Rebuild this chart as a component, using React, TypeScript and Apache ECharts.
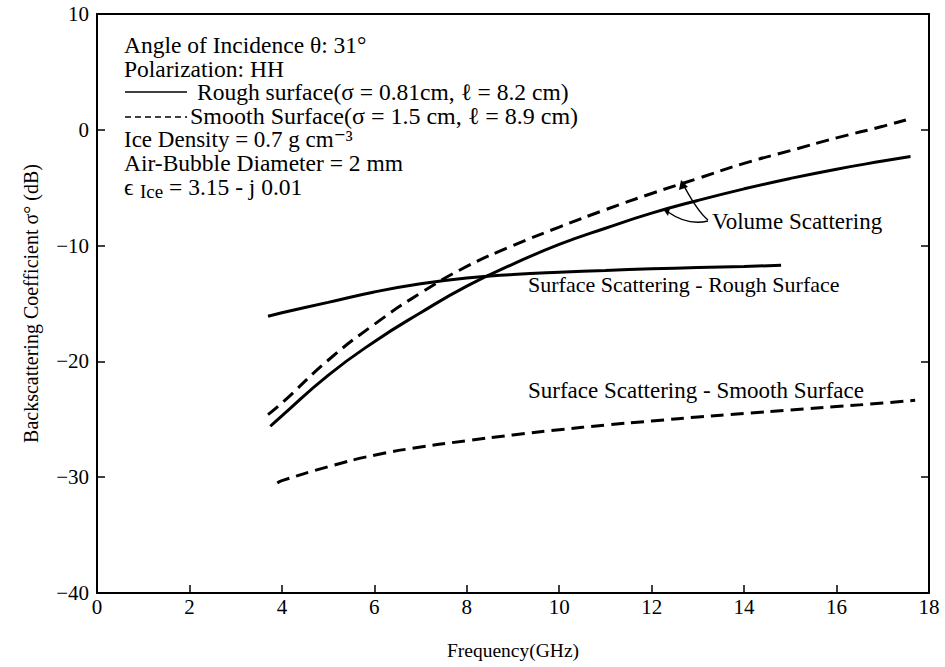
import React, { useEffect, useRef } from "react";
import * as echarts from "echarts";

const xTicks = [0, 2, 4, 6, 8, 10, 12, 14, 16, 18];
const yTicks = [10, 0, -10, -20, -30, -40];

const roughVolFreq = [3.75, 4, 5, 6, 7, 8, 9, 10, 11, 12, 13, 14, 15, 16, 17, 17.6];
const roughVol = [-25.6, -24.7, -21.2, -18.3, -15.8, -13.5, -11.6, -9.9, -8.5, -7.2, -6.1, -5.1, -4.2, -3.4, -2.7, -2.3];

const smoothVolFreq = [3.7, 4, 5, 6, 7, 8, 9, 10, 11, 12, 13, 14, 15, 16, 17, 17.5];
const smoothVol = [-24.6, -23.6, -19.9, -16.8, -14.1, -11.8, -10.0, -8.4, -6.9, -5.5, -4.2, -2.9, -1.8, -0.7, 0.3, 0.85];

const roughSurfFreq = [3.7, 4, 5, 6, 7, 8, 9, 10, 11, 12, 13, 14, 14.8];
const roughSurf = [-16.1, -15.8, -14.9, -14.0, -13.3, -12.8, -12.5, -12.3, -12.15, -12.0, -11.9, -11.8, -11.7];

const smoothSurfFreq = [3.9, 4, 5, 6, 7, 8, 9, 10, 11, 12, 13, 14, 15, 16, 17, 17.7];
const smoothSurf = [-30.5, -30.3, -29.1, -28.1, -27.4, -26.85, -26.35, -25.9, -25.5, -25.15, -24.8, -24.5, -24.2, -23.9, -23.6, -23.35];

const infoLines = [
  "Angle of Incidence \u03b8: 31\u00b0",
  "Polarization: HH",
  "Rough surface(\u03c3 = 0.81cm, \u2113 = 8.2 cm)",
  "Smooth Surface(\u03c3 = 1.5 cm, \u2113 = 8.9 cm)",
  "Ice Density = 0.7 g cm\u207b\u00b3",
  "Air-Bubble Diameter = 2 mm",
];

const FONT = "'Liberation Serif', 'DejaVu Serif', serif";

const zip = (xs: number[], ys: number[]) => xs.map((x, i) => [x, ys[i]]);

export default function App() {
  const ref = useRef<HTMLDivElement>(null);
  useEffect(() => {
    document.body.style.margin = "0";
    const chart = echarts.init(ref.current!, null, { renderer: "svg" });
    const lineStyleSolid = { color: "#000", width: 3, type: "solid" as const };
    const lineStyleDash = { color: "#000", width: 3, type: [13, 7] as any };
    const txt = (x: number, y: number, text: string, size = 22.5) => ({
      type: "text",
      x,
      y,
      style: { text, font: `${size}px ${FONT}`, lineHeight: Math.min(size, 21), fill: "#000", textVerticalAlign: "middle" },
    });
    const rowY = [45, 68.5, 92, 116, 139.5, 163, 186.5];
    const graphics: any[] = [
      txt(124, rowY[0], infoLines[0], 23.5),
      txt(124, rowY[1], infoLines[1], 23.5),
      { type: "line", shape: { x1: 125, y1: rowY[2], x2: 187, y2: rowY[2] }, style: { stroke: "#000", lineWidth: 1.5 } },
      txt(197, rowY[2], infoLines[2], 23.5),
      { type: "line", shape: { x1: 125, y1: rowY[3] + 1, x2: 187, y2: rowY[3] + 1 }, style: { stroke: "#000", lineWidth: 1.5, lineDash: [6, 4] } },
      txt(190, rowY[3], infoLines[3], 24),
      txt(124, rowY[4], infoLines[4], 23),
      txt(124, rowY[5], infoLines[5], 23.5),
      txt(124, rowY[6], "\u03f5", 23.5),
      txt(140, rowY[6] + 5, "Ice", 19),
      txt(169, rowY[6], "= 3.15 - j 0.01", 23.5),
      txt(712, 221, "Volume Scattering", 23),
      txt(528, 284, "Surface Scattering - Rough Surface", 22),
      txt(528, 390, "Surface Scattering - Smooth Surface", 23),
      {
        type: "bezierCurve",
        shape: { x1: 708, y1: 220, cpx1: 698, cpy1: 212, x2: 684, y2: 186 },
        style: { stroke: "#000", lineWidth: 1.5, fill: "none" },
      },
      { type: "polygon", shape: { points: [[681, 180], [679, 190], [688, 187]] }, style: { fill: "#000" } },
      {
        type: "bezierCurve",
        shape: { x1: 708, y1: 221, cpx1: 688, cpy1: 226, x2: 668, y2: 212 },
        style: { stroke: "#000", lineWidth: 1.5, fill: "none" },
      },
      { type: "polygon", shape: { points: [[663, 209], [670, 208], [668, 216]] }, style: { fill: "#000" } },
    ];
    const axisLine = { show: true, onZero: false, lineStyle: { color: "#000", width: 2 } };
    const axisLabel = { color: "#000", fontFamily: FONT, fontSize: 21 };
    const tick = { show: true, inside: true, length: 8, lineStyle: { color: "#000", width: 1.5 } };
    chart.setOption({
      animation: false,
      backgroundColor: "#fff",
      grid: { left: 97, right: 16, top: 14, bottom: 74 },
      xAxis: [
        {
          type: "value",
          min: 0,
          max: 18,
          interval: 2,
          axisLine,
          axisTick: tick,
          axisLabel: { ...axisLabel, margin: 3, formatter: (v: number) => (xTicks.includes(v) ? String(v) : "") },
          splitLine: { show: false },
          name: "Frequency(GHz)",
          nameLocation: "middle",
          nameGap: 47,
          nameTextStyle: { color: "#000", fontFamily: FONT, fontSize: 19.5 },
        },
        {
          type: "value",
          position: "top",
          min: 0,
          max: 18,
          interval: 2,
          axisLine,
          axisTick: { show: false },
          axisLabel: { show: false },
          splitLine: { show: false },
        },
      ],
      yAxis: [
        {
          type: "value",
          min: -40,
          max: 10,
          interval: 10,
          axisLine,
          axisTick: tick,
          axisLabel: {
            ...axisLabel,
            margin: 8,
            formatter: (v: number) => (yTicks.includes(v) ? (v < 0 ? "\u2212" + Math.abs(v) : String(v)) : ""),
          },
          splitLine: { show: false },
          name: "Backscattering Coefficient \u03c3\u00b0 (dB)",
          nameLocation: "middle",
          nameGap: 56,
          nameTextStyle: { color: "#000", fontFamily: FONT, fontSize: 20 },
        },
        {
          type: "value",
          position: "right",
          min: -40,
          max: 10,
          interval: 10,
          axisLine,
          axisTick: tick,
          axisLabel: { show: false },
          splitLine: { show: false },
        },
      ],
      series: [
        { type: "line", name: "Rough volume", data: zip(roughVolFreq, roughVol), smooth: true, showSymbol: false, lineStyle: lineStyleSolid },
        { type: "line", name: "Smooth volume", data: zip(smoothVolFreq, smoothVol), smooth: true, showSymbol: false, lineStyle: lineStyleDash },
        { type: "line", name: "Rough surface", data: zip(roughSurfFreq, roughSurf), smooth: true, showSymbol: false, lineStyle: lineStyleSolid },
        { type: "line", name: "Smooth surface", data: zip(smoothSurfFreq, smoothSurf), smooth: true, showSymbol: false, lineStyle: lineStyleDash },
      ],
      graphic: graphics,
    });
    return () => chart.dispose();
  }, []);
  return <div ref={ref} style={{ position: "absolute", left: 0, top: 0, width: 945, height: 667 }} />;
}
